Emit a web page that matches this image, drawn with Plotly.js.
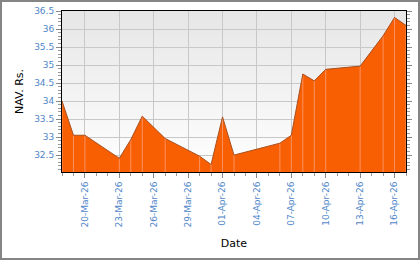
<!DOCTYPE html>
<html>
<head>
<meta charset="utf-8">
<script src="https://cdn.plot.ly/plotly-3.0.1.min.js"></script>
<style>
html,body{margin:0;padding:0;background:#fff;}
#wrap{position:relative;width:420px;height:260px;}
#chart{width:420px;height:260px;}
#frame{position:absolute;left:0;top:0;width:420px;height:260px;box-sizing:border-box;border:2px solid #858585;pointer-events:none;}
</style>
</head>
<body>
<div id="wrap"><div id="chart"></div><div id="frame"></div></div>
<script>
const dates = ["2026-03-18","2026-03-19","2026-03-20","2026-03-23","2026-03-24","2026-03-25","2026-03-27","2026-03-30","2026-03-31","2026-04-01","2026-04-02","2026-04-06","2026-04-07","2026-04-08","2026-04-09","2026-04-10","2026-04-13","2026-04-15","2026-04-16","2026-04-17"];
const nav = [34.00,33.05,33.05,32.41,32.93,33.58,32.96,32.47,32.24,33.56,32.50,32.83,33.05,34.75,34.56,34.88,34.97,35.81,36.32,36.10];
const yMin = 32.03, yMax = 36.5;
const xStart = "2026-03-18", xEnd = "2026-04-17";

const bgSvg = '<svg xmlns="http://www.w3.org/2000/svg" width="10" height="100" preserveAspectRatio="none"><defs><linearGradient id="g" x1="0" y1="0" x2="0" y2="1"><stop offset="0" stop-color="#e6e6e6"/><stop offset="1" stop-color="#ffffff"/></linearGradient></defs><rect width="10" height="100" fill="url(#g)"/></svg>';
const bgUri = 'data:image/svg+xml;charset=utf-8,' + encodeURIComponent(bgSvg);

const trace = {
  x: dates, y: nav, type: 'scatter', mode: 'lines',
  fill: 'tozeroy', fillcolor: '#f85f02',
  line: {color: '#a9501f', width: 1},
  error_y: {type: 'data', symmetric: false, array: nav.map(() => 0), arrayminus: nav.map(v => v - yMin + 1), color: '#fb9260', thickness: 1, width: 0},
  hoverinfo: 'skip', showlegend: false
};

const tickFont = {family: 'DejaVu Sans, Verdana, sans-serif', size: 9, color: '#4f86c9'};

const layout = {
  width: 420, height: 260,
  margin: {l: 62, r: 13.5, t: 10.5, b: 88},
  paper_bgcolor: '#ffffff', plot_bgcolor: 'rgba(0,0,0,0)',
  showlegend: false,
  images: [{source: bgUri, xref: 'paper', yref: 'paper', x: 0, y: 1, sizex: 1, sizey: 1, sizing: 'stretch', xanchor: 'left', yanchor: 'top', layer: 'below'}],
  xaxis: {
    type: 'date', range: [xStart, xEnd],
    tick0: '2026-03-20', dtick: 3 * 86400000, tickformat: '%d-%b-%y', tickangle: -90,
    ticks: 'outside', ticklen: 5, tickcolor: '#888', tickwidth: 1,
    minor: {dtick: 86400000, ticks: 'outside', ticklen: 3, tickcolor: '#999', showgrid: false},
    showgrid: true, gridcolor: '#c8c8c8', gridwidth: 1,
    showline: true, linecolor: '#000', linewidth: 1, mirror: true,
    tickfont: tickFont, zeroline: false,
    title: {text: 'Date', font: {family: 'DejaVu Sans, Verdana, sans-serif', size: 11, color: '#000'}, standoff: 12}
  },
  yaxis: {
    range: [yMin, yMax], tick0: 32.5, dtick: 0.5,
    ticks: 'outside', ticklen: 5, tickcolor: '#888', tickwidth: 1,
    minor: {dtick: 0.1, ticks: 'outside', ticklen: 3, tickcolor: '#999', showgrid: false},
    showgrid: true, gridcolor: '#c8c8c8', gridwidth: 1,
    showline: true, linecolor: '#000', linewidth: 1, mirror: 'ticks',
    tickfont: tickFont, zeroline: false,
    title: {text: 'NAV. Rs.', font: {family: 'DejaVu Sans, Verdana, sans-serif', size: 11, color: '#000'}, standoff: 8}
  }
};

Plotly.newPlot('chart', [trace], layout, {staticPlot: true, displayModeBar: false});
</script>
</body>
</html>
